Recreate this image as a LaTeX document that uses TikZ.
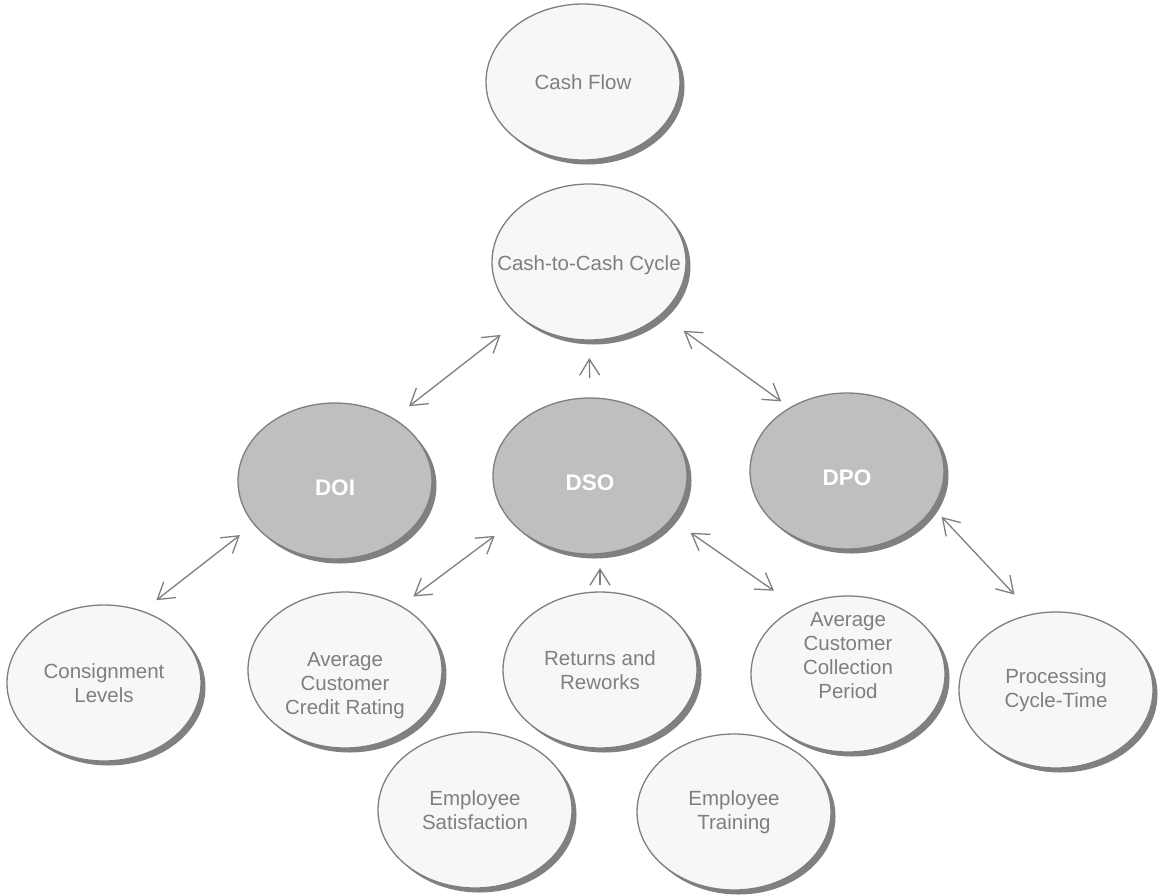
\documentclass[tikz,border=0pt]{standalone}
\usepackage{fontspec}
\setmainfont{Liberation Sans}
\usetikzlibrary{shapes.geometric,arrows.meta,shadows}
\definecolor{edgegray}{HTML}{7F7F7F}
\definecolor{lightfill}{HTML}{F7F7F7}
\definecolor{darkfill}{HTML}{BFBFBF}
\definecolor{shadegray}{HTML}{808080}
\newcommand{\shifttext}[2]{\raisebox{#1}[\height][\depth]{#2}}
\tikzset{
  bubble/.style={ellipse, draw=edgegray, line width=1.3pt, minimum width=194pt,
    minimum height=156pt, inner sep=0pt, outer sep=0pt, align=center,
    drop shadow={shadow xshift=4.5pt, shadow yshift=-4.5pt, fill=shadegray, opacity=1}},
  lightbubble/.style={bubble, fill=lightfill, text=edgegray, font=\fontsize{20.5}{24}\selectfont},
  darkbubble/.style={bubble, fill=darkfill, text=white, font=\bfseries\fontsize{22.5}{26}\selectfont},
  tipshape/.style={Straight Barb[length=16pt,width=20pt,line width=1.3pt]},
  twoway/.style={draw=edgegray, line width=1.3pt, {Straight Barb[length=16pt,width=20pt]}-{Straight Barb[length=16pt,width=20pt]}},
  oneway/.style={draw=edgegray, line width=1.3pt, -{Straight Barb[length=16pt,width=20pt]}},
}
\begin{document}
\begin{tikzpicture}[x=1pt,y=-1pt]
\useasboundingbox (0,0) rectangle (1159,895);
\fill[white] (0,0) rectangle (1159,895);

\node[lightbubble] (cf) at (583,82) {Cash Flow};
\node[lightbubble] (cc) at (589,262) {\makebox[0pt]{\shifttext{-3pt}{Cash-to-Cash Cycle}}};

\node[darkbubble] (doi) at (335,481) {\shifttext{-7pt}{DOI}};
\node[darkbubble] (dso) at (590,476) {\shifttext{-7pt}{DSO}};
\node[darkbubble] (dpo) at (847,471) {\shifttext{-7pt}{DPO}};

\node[lightbubble] (cons) at (104,683) {Consignment\\Levels};
\node[lightbubble] (credit) at (345,670) {\shifttext{-16pt}{\begin{tabular}{@{}c@{}}Average\\Customer\\Credit Rating\end{tabular}}};
\node[lightbubble] (ret) at (600,670) {Returns and\\Reworks};
\node[lightbubble] (coll) at (848,674) {\shifttext{16pt}{\begin{tabular}{@{}c@{}}Average\\Customer\\Collection\\Period\end{tabular}}};
\node[lightbubble] (proc) at (1056,690) {Processing\\Cycle-Time};
\node[lightbubble] (sat) at (475,810) {Employee\\Satisfaction};
\node[lightbubble] (train) at (734,812) {Employee\\Training};

\draw[twoway, shorten <=27pt, shorten >=20pt] (cc.220) -- (doi.47);
\draw[twoway, shorten <=28pt, shorten >=11pt] (cc.324) -- (dpo.132);
\draw[oneway, shorten <=20pt, shorten >=18pt] (dso.north) -- (cc.south);
\draw[twoway, shorten <=18pt, shorten >=18pt] (doi.208) -- (cons.62);
\draw[twoway, shorten <=22pt, shorten >=16pt] (dso.211) -- (credit.49);
\draw[oneway, shorten <=7pt, shorten >=14pt] (ret.north) -- (ret.north |- dso.south);
\draw[twoway, shorten <=24pt, shorten >=29pt] (dso.332) -- (coll.127);
\draw[twoway, shorten <=13pt, shorten >=27pt] (dpo.337) -- (proc.107);
\end{tikzpicture}
\end{document}
